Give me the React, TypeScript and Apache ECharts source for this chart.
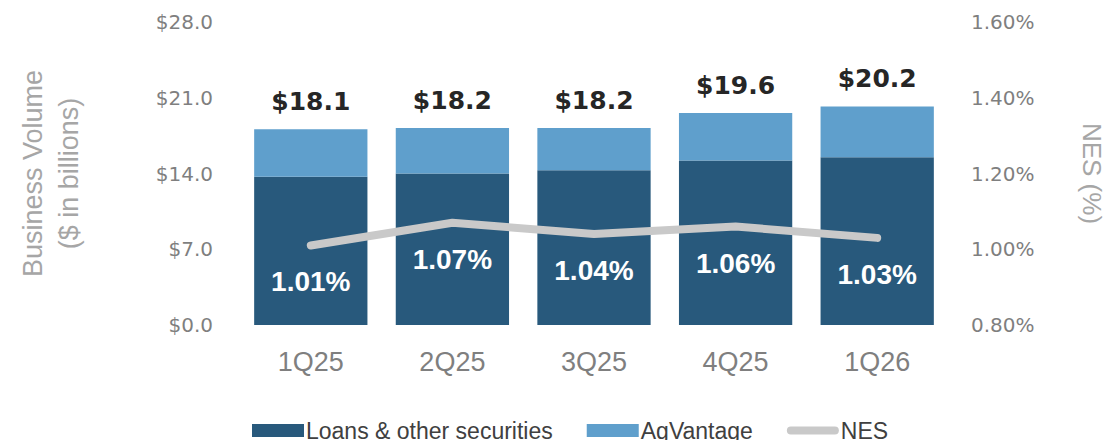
import React, { useEffect, useRef } from "react";
import * as echarts from "echarts";

const categories = ["1Q25", "2Q25", "3Q25", "4Q25", "1Q26"];
const loans = [13.7, 14.0, 14.3, 15.2, 15.5];
const agVantage = [4.4, 4.2, 3.9, 4.4, 4.7];
const totals = [18.1, 18.2, 18.2, 19.6, 20.2];
const nes = [1.01, 1.07, 1.04, 1.06, 1.03];

const dejavu = "'DejaVu Sans', 'Liberation Sans', sans-serif";
const sans = "'Liberation Sans', Arial, sans-serif";

export default function App() {
  const ref = useRef<HTMLDivElement>(null);
  useEffect(() => {
    if (!ref.current) return;
    const chart = echarts.init(ref.current, undefined, { renderer: "svg", width: 1107, height: 440 });
    chart.setOption({
      animation: false,
      backgroundColor: "#ffffff",
      grid: { left: 240, right: 159, top: 22, bottom: 115, containLabel: false, outerBoundsMode: "none" },
      legend: {
        left: 247,
        top: 414,
        itemWidth: 52,
        itemHeight: 13,
        itemGap: 34,
        textStyle: { fontFamily: sans, fontSize: 23, color: "#404040", padding: [0, 0, 0, -3] },
        data: [
          { name: "Loans & other securities", icon: "rect" },
          { name: "AgVantage", icon: "rect" },
          {
            name: "NES",
            icon: "path://M4,0L48,0A4,4,0,0,1,48,8L4,8A4,4,0,0,1,4,0Z",
            itemStyle: { color: "#c9c9c9" },
          },
        ],
      },
      xAxis: {
        type: "category",
        data: categories,
        axisLine: { show: false },
        axisTick: { show: false },
        axisLabel: { fontFamily: sans, fontSize: 27, color: "#7f7f7f", margin: 23 },
      },
      yAxis: [
        {
          type: "value",
          min: 0,
          max: 28,
          interval: 7,
          splitLine: { show: false },
          axisLine: { show: false },
          axisTick: { show: false },
          axisLabel: {
            fontFamily: dejavu,
            fontSize: 20,
            color: "#7f7f7f",
            margin: 27,
            formatter: (v: number) => "$" + v.toFixed(1),
          },
          name: "Business Volume\n($ in billions)",
          nameLocation: "middle",
          nameRotate: 90,
          nameGap: 153,
          nameTextStyle: { fontFamily: sans, fontSize: 27, color: "#a6a6a6", lineHeight: 36 },
        },
        {
          type: "value",
          min: 0.8,
          max: 1.6,
          interval: 0.2,
          splitLine: { show: false },
          axisLine: { show: false },
          axisTick: { show: false },
          axisLabel: {
            fontFamily: dejavu,
            fontSize: 20,
            color: "#7f7f7f",
            margin: 23,
            formatter: (v: number) => v.toFixed(2) + "%",
          },
          name: "NES (%)",
          nameLocation: "middle",
          nameRotate: -90,
          nameGap: 131,
          nameTextStyle: { fontFamily: sans, fontSize: 26, color: "#a6a6a6" },
        },
      ],
      series: [
        {
          name: "Loans & other securities",
          type: "bar",
          stack: "vol",
          data: loans,
          barWidth: "80%",
          itemStyle: { color: "#28597c" },
        },
        {
          name: "AgVantage",
          type: "bar",
          stack: "vol",
          data: agVantage,
          itemStyle: { color: "#5f9fcc" },
          label: {
            show: true,
            position: "top",
            distance: 15,
            fontFamily: dejavu,
            fontSize: 25,
            fontWeight: "bold",
            color: "#262626",
            formatter: (p: any) => "$" + totals[p.dataIndex].toFixed(1),
          },
        },
        {
          name: "NES",
          type: "line",
          yAxisIndex: 1,
          data: nes,
          symbol: "circle",
          symbolSize: 1,
          showSymbol: true,
          lineStyle: { color: "#c9c9c9", width: 8, cap: "round", join: "round" },
          itemStyle: { color: "rgba(0,0,0,0)" },
          label: {
            show: true,
            position: "bottom",
            distance: 22,
            fontFamily: sans,
            fontSize: 28,
            fontWeight: "bold",
            color: "#ffffff",
            formatter: (p: any) => Number(p.value).toFixed(2) + "%",
          },
        },
      ],
    });
    return () => chart.dispose();
  }, []);
  return (
    <div
      ref={ref}
      style={{ position: "fixed", left: 0, top: 0, width: 1107, height: 440, background: "#fff" }}
    />
  );
}
